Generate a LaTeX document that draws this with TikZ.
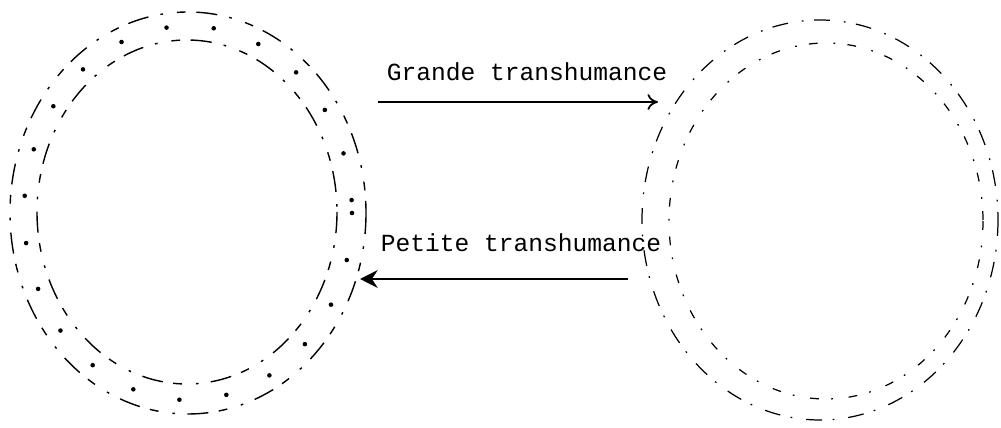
\documentclass[tikz,border=0pt]{standalone}
\usepackage{fontspec}
\setmonofont{Liberation Mono}
\usetikzlibrary{arrows.meta}
\begin{document}
\begin{tikzpicture}[x=0.02cm, y=-0.02cm,
	ringline/.style={black, line width=0.8pt, dash pattern=on 12pt off 7pt on 1.5pt off 8pt on 5pt off 6pt},
	ringdots/.style={black, line width=2.6pt, line cap=round, dash pattern=on 0pt off 27pt},
	label/.style={font=\ttfamily\fontsize{14}{16}\selectfont, inner sep=0pt}]
	% frame
	\useasboundingbox (0, 0) rectangle (1001, 428);

	% left ring
	\draw[ringline] (188, 213) ellipse [x radius=178, y radius=201];
	\draw[ringline] (187, 212) ellipse [x radius=150, y radius=172];
	\draw[ringdots] (188, 213) ellipse [x radius=164, y radius=187];

	% right ring
	\draw[ringline, line width=0.7pt, dash pattern=on 9pt off 8pt on 1pt off 6pt] (820, 220) ellipse [x radius=178, y radius=200];
	\draw[ringline, line width=0.7pt, dash pattern=on 5pt off 9pt on 1pt off 7pt] (826, 221) ellipse [x radius=157, y radius=178];

	% arrows
	\coordinate (grandestart) at (378, 102);
	\coordinate (grandeend) at (658, 102);
	\coordinate (petitestart) at (628, 279);
	\coordinate (petiteend) at (360, 279);

	\node[label] (grande) at (527, 72) {Grande transhumance};
	\node[label] (petite) at (521, 243) {Petite transhumance};

	\draw[-{To[length=6pt, width=9pt]}, line width=1pt] (grandestart) -- (grandeend);
	\draw[-{Stealth[length=10pt, width=10pt]}, line width=1.6pt] (petitestart) -- (petiteend);
\end{tikzpicture}
\end{document}
